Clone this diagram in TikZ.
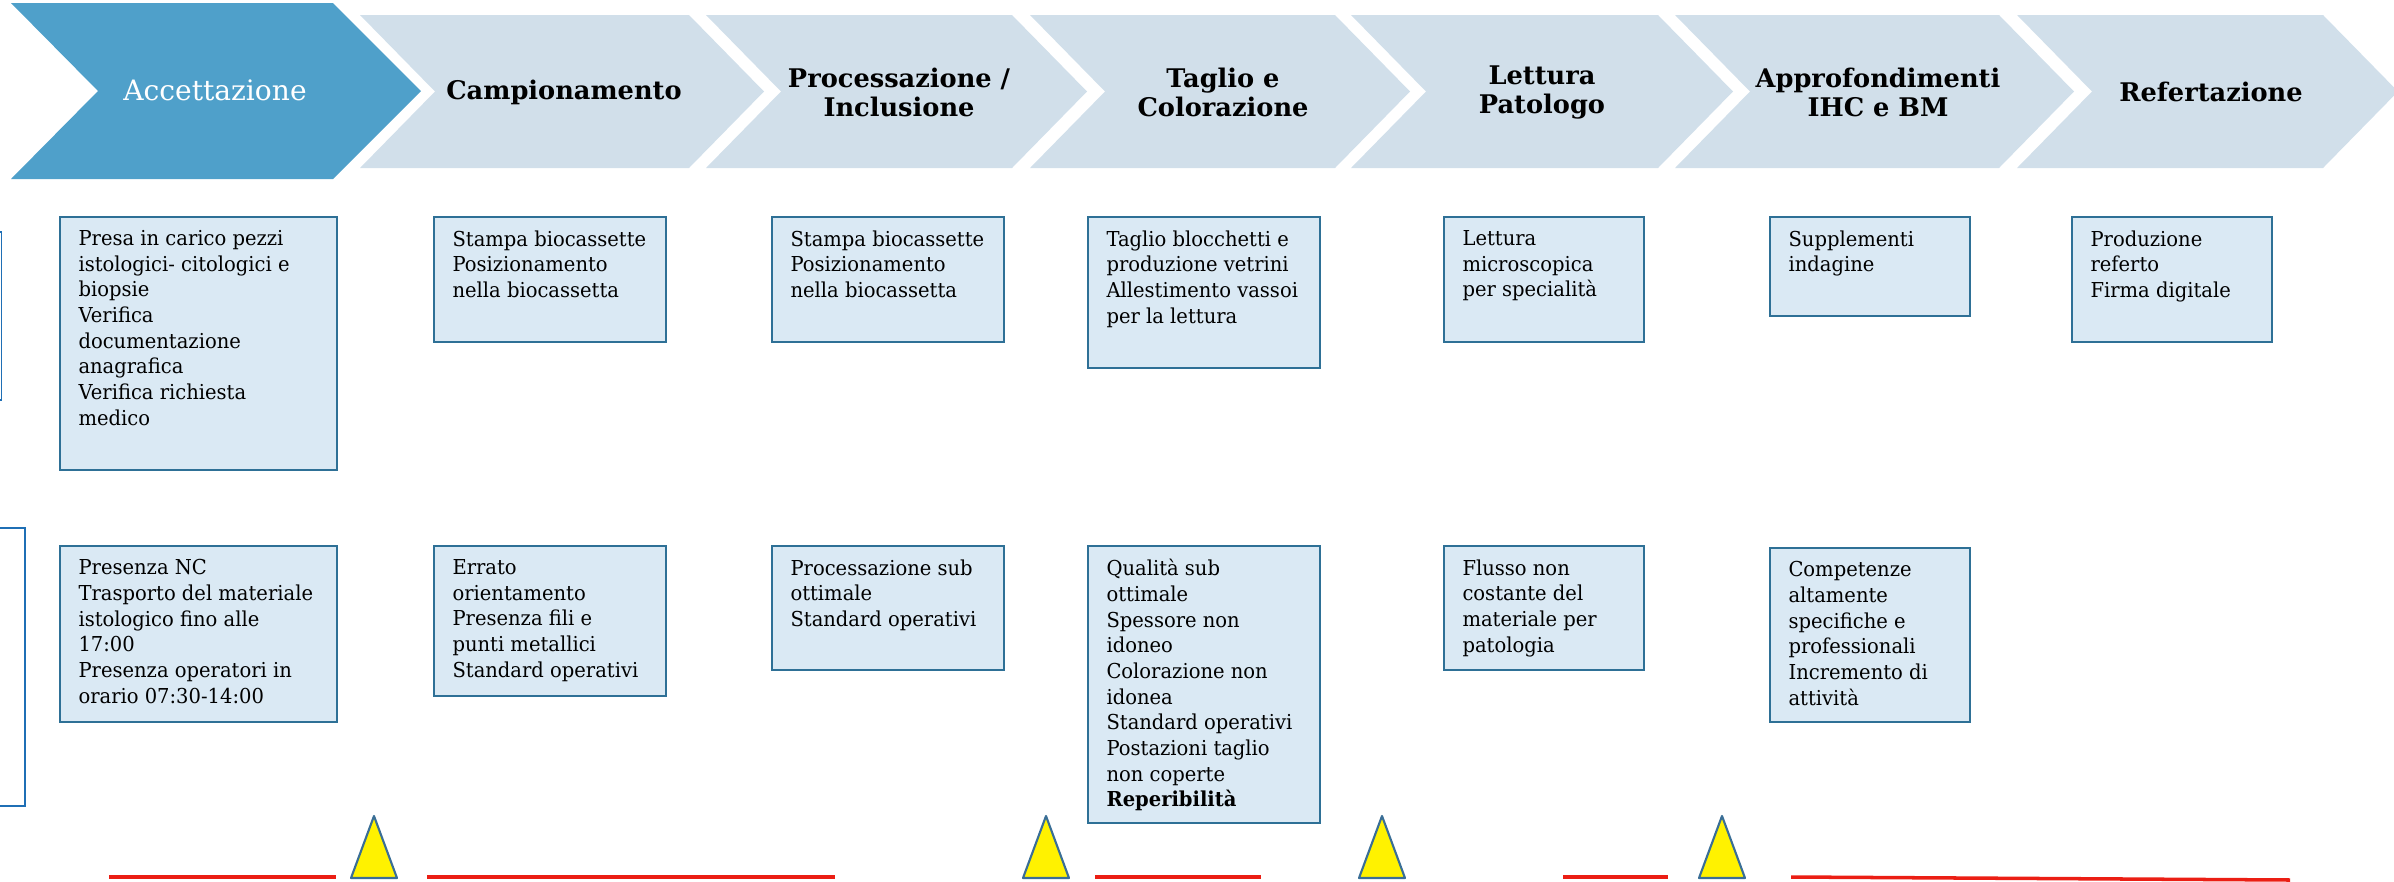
\documentclass[tikz,border=0pt]{standalone}
\usepackage{fontspec}
\setmainfont{DejaVu Serif}[FakeStretch=0.95]
\newfontfamily\headfont{DejaVu Serif}
\usepackage{tikz}

\definecolor{accblue}{RGB}{79,160,202}
\definecolor{phasegrey}{RGB}{209,223,234}
\definecolor{boxfill}{RGB}{218,233,244}
\definecolor{boxline}{RGB}{46,112,150}
\definecolor{sideline}{RGB}{31,111,181}
\definecolor{triline}{RGB}{58,110,150}
\definecolor{alertred}{RGB}{235,30,20}

\begin{document}
\begin{tikzpicture}[x=0.2mm, y=-0.2mm, semithick]
	\tikzstyle{phase}=[fill=phasegrey]
	\tikzstyle{head}=[font=\headfont\bfseries\fontsize{14.6}{16.4}\selectfont, align=center, inner sep=0pt]
	\tikzstyle{box}=[draw=boxline, fill=boxfill, line width=1.3pt]
	\tikzstyle{sidebox}=[draw=sideline, line width=1.1pt]
	\tikzstyle{txt}=[anchor=north west, align=left, inner sep=0pt, font=\fontsize{11.7}{14.6}\selectfont, execute at begin node=\strut]
	\tikzstyle{warn}=[draw=triline, fill=yellow, line width=1.2pt, line join=round]
	\tikzstyle{redline}=[draw=alertred, line width=2pt]

	\useasboundingbox (0,0) rectangle (2394,881);
	\clip (0,0) rectangle (2394,881);

	% fasi
	\path[fill=accblue] (11,3) -- (333,3) -- (421,91) -- (333,179) -- (11,179) -- (98,91) -- cycle;
	\path[phase] (360,15) -- (689,15) -- (764,91.5) -- (689,168) -- (360,168) -- (435,91.5) -- cycle;
	\path[phase] (706,15) -- (1012,15) -- (1087,91.5) -- (1012,168) -- (706,168) -- (781,91.5) -- cycle;
	\path[phase] (1030,15) -- (1335,15) -- (1410,91.5) -- (1335,168) -- (1030,168) -- (1105,91.5) -- cycle;
	\path[phase] (1351,15) -- (1658,15) -- (1733,91.5) -- (1658,168) -- (1351,168) -- (1426,91.5) -- cycle;
	\path[phase] (1675,15) -- (1999,15) -- (2074,91.5) -- (1999,168) -- (1675,168) -- (1750,91.5) -- cycle;
	\path[phase] (2017,15) -- (2323,15) -- (2398,91.5) -- (2323,168) -- (2017,168) -- (2092,91.5) -- cycle;

	\node[head, text=white, font=\headfont\fontsize{16}{19}\selectfont] (acc) at (215,90) {Accettazione};
	\node[head] (camp) at (564,92) {Campionamento};
	\node[head] (proc) at (899,92.5) {Processazione /\\Inclusione};
	\node[head] (tagl) at (1223,92.5) {Taglio e\\Colorazione};
	\node[head] (lett) at (1542,92.5) {Lettura\\Patologo};
	\node[head] (appr) at (1878,92.5) {Approfondimenti\\IHC e BM};
	\node[head] (refe) at (2211,92) {Refertazione};

	% riquadri tagliati a sinistra
	\draw[sidebox] (-60,232) rectangle (1.5,400);
	\draw[sidebox] (-60,528) rectangle (25,806);

	% attivita
	\draw[box] (60,217) rectangle (337,470);
	\node[txt] (a1) at (78,230) {Presa in carico pezzi\\istologici- citologici e\\biopsie\\Verifica\\documentazione\\anagrafica\\Verifica richiesta\\medico};
	\draw[box] (434,217) rectangle (666,342);
	\node[txt] (b1) at (452,230) {Stampa biocassette\\Posizionamento\\nella biocassetta};
	\draw[box] (772,217) rectangle (1004,342);
	\node[txt] (c1) at (790,230) {Stampa biocassette\\Posizionamento\\nella biocassetta};
	\draw[box] (1088,217) rectangle (1320,368);
	\node[txt] (d1) at (1106,230) {Taglio blocchetti e\\produzione vetrini\\Allestimento vassoi\\per la lettura};
	\draw[box] (1444,217) rectangle (1644,342);
	\node[txt] (e1) at (1462,230) {Lettura\\microscopica\\per specialità};
	\draw[box] (1770,217) rectangle (1970,316);
	\node[txt] (f1) at (1788,230) {Supplementi\\indagine};
	\draw[box] (2072,217) rectangle (2272,342);
	\node[txt] (g1) at (2090,230) {Produzione\\referto\\Firma digitale};

	% criticita
	\draw[box] (60,546) rectangle (337,722);
	\node[txt] (a2) at (78,559) {Presenza NC\\Trasporto del materiale\\istologico fino alle\\17:00\\Presenza operatori in\\orario 07:30-14:00};
	\draw[box] (434,546) rectangle (666,696);
	\node[txt] (b2) at (452,559) {Errato\\orientamento\\Presenza fili e\\punti metallici\\Standard operativi};
	\draw[box] (772,546) rectangle (1004,670);
	\node[txt] (c2) at (790,559) {Processazione sub\\ottimale\\Standard operativi};
	\draw[box] (1088,546) rectangle (1320,823);
	\node[txt] (d2) at (1106,559) {Qualità sub\\ottimale\\Spessore non\\idoneo\\Colorazione non\\idonea\\Standard operativi\\Postazioni taglio\\non coperte\\\textbf{Reperibilità}};
	\draw[box] (1444,546) rectangle (1644,670);
	\node[txt] (e2) at (1462,559) {Flusso non\\costante del\\materiale per\\patologia};
	\draw[box] (1770,548) rectangle (1970,722);
	\node[txt] (f2) at (1788,561) {Competenze\\altamente\\specifiche e\\professionali\\Incremento di\\attività};

	% linea rossa e segnali
	\draw[redline] (109,877) -- (336,877);
	\draw[redline] (427,877) -- (835,877);
	\draw[redline] (1095,877) -- (1261,877);
	\draw[redline] (1563,877) -- (1668,877);
	\draw[redline] (1791,877) -- (2290,880);
	\path[warn] (351,878) -- (374,816) -- (397,878) -- cycle;
	\path[warn] (1023,878) -- (1046,816) -- (1069,878) -- cycle;
	\path[warn] (1359,878) -- (1382,816) -- (1405,878) -- cycle;
	\path[warn] (1699,878) -- (1722,816) -- (1745,878) -- cycle;

\end{tikzpicture}
\end{document}
